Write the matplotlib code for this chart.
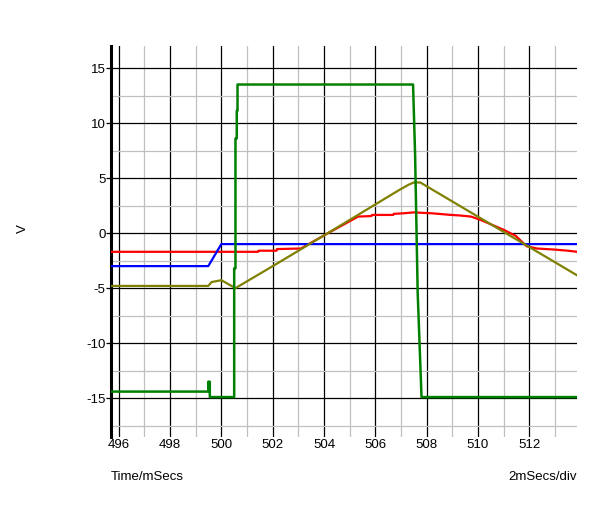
"""
Scope trace recreation: four channels vs time, 2 ms/div.
"""

import matplotlib

matplotlib.use("Agg")
import matplotlib.pyplot as plt
from matplotlib.ticker import MultipleLocator

# time axis (ms) and voltage traces (V)
T_MIN, T_MAX = 495.7, 513.87

blue_t = [T_MIN, 499.49, 500.0, T_MAX]
blue_v = [-3.0, -3.0, -1.0, -1.0]

red_t = [T_MIN, 501.43, 501.45, 502.15, 502.17, 503.1, 504.2, 505.33, 505.85, 505.87,
         506.7, 506.72, 507.1, 507.5, 508.2, 508.9, 509.3, 509.73, 510.1, 510.5,
         511.0, 511.47, 511.9, 512.3, 513.0, 513.5, T_MAX]
red_v = [-1.7, -1.7, -1.6, -1.6, -1.45, -1.4, 0.05, 1.5, 1.55, 1.65,
         1.65, 1.75, 1.8, 1.88, 1.8, 1.66, 1.6, 1.5, 1.2, 0.8,
         0.3, -0.25, -1.2, -1.4, -1.5, -1.6, -1.7]

olive_t = [T_MIN, 499.49, 499.62, 500.0, 500.55, 502.09, 504.15, 506.62, 506.95,
           507.3, 507.5, 507.75, T_MAX]
olive_v = [-4.8, -4.8, -4.45, -4.28, -5.0, -2.88, 0.0, 3.48, 3.94,
           4.4, 4.6, 4.6, -3.85]

green_t = [T_MIN, 499.49, 499.49, 499.55, 499.55, 500.5, 500.5, 500.55, 500.55,
           500.6, 500.6, 500.63, 500.63, 507.47, 507.55, 507.65, 507.8, T_MAX]
green_v = [-14.4, -14.4, -13.5, -13.5, -14.9, -14.9, -3.2, -3.2, 8.6,
           8.6, 11.1, 11.1, 13.5, 13.5, 7.1, -5.4, -14.9, -14.9]

x_ticks = [496, 498, 500, 502, 504, 506, 508, 510, 512]
y_ticks = [-15, -10, -5, 0, 5, 10, 15]


def main() -> None:
    plt.rcParams["font.family"] = ["Liberation Sans", "DejaVu Sans"]
    plt.rcParams["axes.unicode_minus"] = False
    fig = plt.figure(figsize=(6.15, 5.16), dpi=100)
    ax = fig.add_axes([111 / 615, 1 - 436.7 / 516, (577.3 - 111) / 615, (436.7 - 46) / 516])

    ax.plot(red_t, red_v, color="#ff0000", lw=1.6, zorder=3)
    ax.plot(blue_t, blue_v, color="#0000ff", lw=1.6, zorder=4)
    ax.plot(olive_t, olive_v, color="#808000", lw=1.6, zorder=5)
    ax.plot(green_t, green_v, color="#008000", lw=1.8, zorder=6)

    ax.set_xlim(T_MIN, T_MAX)
    ax.set_ylim(-18.5, 17.0)
    ax.set_xticks(x_ticks)
    ax.set_yticks(y_ticks)
    ax.xaxis.set_minor_locator(MultipleLocator(1))
    ax.yaxis.set_minor_locator(MultipleLocator(2.5))
    ax.grid(which="minor", color="#c0c0c0", lw=0.9, zorder=0)
    ax.grid(which="major", color="black", lw=0.9, zorder=1)
    ax.set_axisbelow(True)

    for side in ("top", "right", "bottom"):
        ax.spines[side].set_visible(False)
    ax.spines["left"].set_linewidth(2.2)
    ax.tick_params(axis="x", which="both", length=0, pad=2, labelsize=9.5)
    ax.tick_params(axis="y", which="major", length=3.5, width=0.9, pad=0.5, labelsize=9.5)
    ax.tick_params(axis="y", which="minor", length=0)

    fig.text(23 / 615, 1 - 229 / 516, "V", rotation=90, ha="center", va="center", fontsize=9.5)
    fig.text(111 / 615, 1 - 477 / 516, "Time/mSecs", ha="left", va="center", fontsize=9.5)
    fig.text(577 / 615, 1 - 477 / 516, "2mSecs/div", ha="right", va="center", fontsize=9.5)

    fig.savefig("out.png", dpi=100)
    plt.close(fig)


if __name__ == "__main__":
    main()
